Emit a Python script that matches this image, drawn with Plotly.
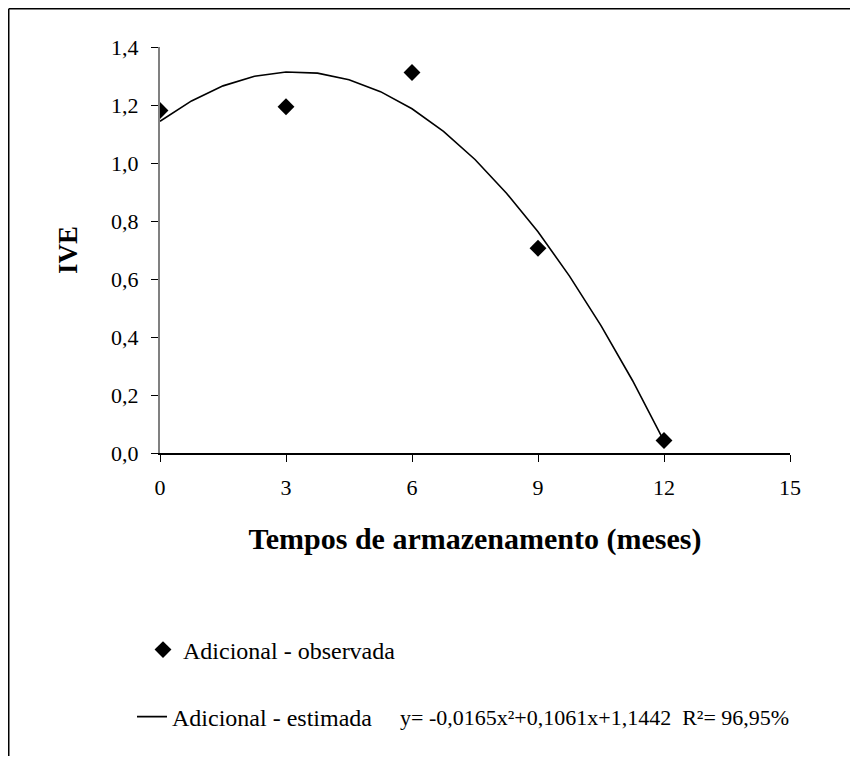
import plotly.graph_objects as go

# ---- data ----
months_obs = [0, 3, 6, 9, 12]
ive_obs = [1.181, 1.194, 1.312, 0.706, 0.043]

months_est = [0, 0.75, 1.5, 2.25, 3, 3.75, 4.5, 5.25, 6, 6.75, 7.5, 8.25, 9, 9.75, 10.5, 11.25, 12]
ive_est = [1.144, 1.214, 1.266, 1.299, 1.314, 1.310, 1.287, 1.246, 1.187, 1.109, 1.012,
           0.896, 0.763, 0.610, 0.439, 0.250, 0.041]

x_ticks = [0, 3, 6, 9, 12, 15]
y_ticks = [0.0, 0.2, 0.4, 0.6, 0.8, 1.0, 1.2, 1.4]

name_obs = "Adicional - observada"
name_est = "Adicional - estimada"
equation = "y= -0,0165x²+0,1061x+1,1442  R²= 96,95%"
x_title = "Tempos de armazenamento (meses)"
y_title = "IVE"

# ---- layout geometry (pixels, page coords minus the 8px body margin) ----
OFF = 8
W, H = 858 - 2 * OFF, 764 - 2 * OFF
L, R, T, B = 160 - OFF, 790 - OFF, 47 - OFF, 453 - OFF


def px(xp):
    """page x (pixels) -> paper x"""
    return (xp - OFF - L) / (R - L)


def py(yp):
    """page y (pixels) -> paper y"""
    return (B - (yp - OFF)) / (B - T)


FONT = "'Times New Roman', 'Liberation Serif', Times, serif"

fig = go.Figure()
fig.add_trace(go.Scatter(
    x=months_est, y=ive_est, mode="lines", name=name_est,
    line=dict(color="black", width=1.6), legend="legend2"))
fig.add_trace(go.Scatter(
    x=months_obs, y=ive_obs, mode="markers", name=name_obs,
    marker=dict(symbol="diamond", size=13, color="black"), legend="legend"))

fig.update_layout(
    width=W, height=H,
    margin=dict(l=L, r=W - R, t=T, b=H - B, autoexpand=False),
    paper_bgcolor="white", plot_bgcolor="white",
    separators=", ",
    font=dict(family=FONT, size=21, color="black"),
    xaxis=dict(
        range=[0, 15], tickvals=x_ticks, ticks="outside", ticklen=7, tickwidth=1,
        tickcolor="black", showline=True, linecolor="black", linewidth=1.5,
        showgrid=False, zeroline=False, ticklabelstandoff=7,
        tickfont=dict(family=FONT, size=22, color="black"),
        title=dict(text="<b>" + x_title + "</b>",
                   font=dict(family=FONT, size=30, color="black"), standoff=29),
    ),
    yaxis=dict(
        range=[0, 1.4], tickvals=y_ticks, tickformat=".1f", ticks="outside", ticklen=7,
        tickwidth=1, tickcolor="black", showline=True, linecolor="#808080", linewidth=2,
        showgrid=False, zeroline=False, ticklabelstandoff=8,
        tickfont=dict(family=FONT, size=22, color="black"),
        title=dict(text="<b>" + y_title + "</b>",
                   font=dict(family=FONT, size=27, color="black"), standoff=26),
    ),
    legend=dict(x=px(143), y=py(650), xanchor="left", yanchor="middle",
                font=dict(family=FONT, size=24, color="black"),
                bgcolor="rgba(0,0,0,0)", borderwidth=0),
    legend2=dict(x=px(132), y=py(717), xanchor="left", yanchor="middle",
                 font=dict(family=FONT, size=24, color="black"),
                 bgcolor="rgba(0,0,0,0)", borderwidth=0),
    showlegend=True,
)

fig.add_annotation(text=equation, xref="paper", yref="paper", x=px(398), y=py(717),
                   xanchor="left", yanchor="middle", showarrow=False,
                   font=dict(family=FONT, size=22, color="black"))

# outer frame (left and top edges)
fig.add_shape(type="line", xref="paper", yref="paper",
              x0=px(OFF + 0.75), x1=px(OFF + 0.75), y0=py(OFF + 0.75), y1=py(OFF + H),
              line=dict(color="black", width=1.5))
fig.add_shape(type="line", xref="paper", yref="paper",
              x0=px(OFF + 0.75), x1=px(OFF + W), y0=py(OFF + 0.75), y1=py(OFF + 0.75),
              line=dict(color="black", width=1.5))

fig.write_html("out.html")
